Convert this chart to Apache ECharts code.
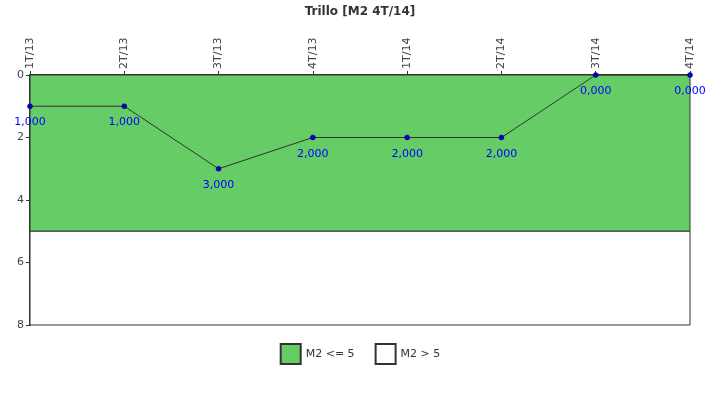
<!DOCTYPE html>
<html><head><meta charset="utf-8">
<script src="https://cdn.jsdelivr.net/npm/echarts@6/dist/echarts.min.js"></script>
<style>html,body{margin:0;padding:0;background:#fff}#c{width:720px;height:400px}</style>
</head><body><div id="c"></div>
<script>
const categories = ['1T/13','2T/13','3T/13','4T/13','1T/14','2T/14','3T/14','4T/14'];
const values = [1, 1, 3, 2, 2, 2, 0, 0];
const bandNames = ['M2 <= 5', 'M2 > 5'];
const bandRanges = [[0, 5], [5, 8]];
const bandColors = ['#66cc66', '#ffffff'];
const yTicks = [0, 2, 4, 6, 8];

const font = 'DejaVu Sans';
const chart = echarts.init(document.getElementById('c'));
const bandSeries = bandNames.map((n, i) => ({
  name: n, type: 'line', data: [], symbol: 'rect',
  itemStyle: { color: bandColors[i], borderColor: '#333', borderWidth: 1 },
  lineStyle: { width: 0 },
  markArea: {
    silent: true,
    itemStyle: { color: bandColors[i], borderColor: '#333', borderWidth: 1 },
    data: [[{ yAxis: bandRanges[i][0] }, { yAxis: bandRanges[i][1] }]]
  },
  z: 1
}));
chart.setOption({
  animation: false,
  title: { text: 'Trillo [M2 4T/14]', left: 'center', top: 1,
    textStyle: { fontFamily: font, fontSize: 12, fontWeight: 'bold', color: '#333' } },
  legend: {
    bottom: 30, left: 'center', itemWidth: 20, itemHeight: 20, itemGap: 20,
    icon: 'rect',
    data: bandNames,
    textStyle: { fontFamily: font, fontSize: 11, color: '#333' }
  },
  grid: { left: 30, right: 30, top: 75, bottom: 75 },
  xAxis: {
    type: 'category', data: categories, position: 'top', boundaryGap: false,
    axisLine: { lineStyle: { color: '#333', width: 2 } },
    axisTick: { show: true, length: 4, lineStyle: { color: '#333' }, alignWithLabel: true },
    axisLabel: { rotate: 90, fontFamily: font, fontSize: 11, color: '#444', margin: 6 },
    splitLine: { show: false }
  },
  yAxis: {
    type: 'value', inverse: true, min: 0, max: 8, interval: 2,
    axisLine: { show: true, lineStyle: { color: '#333', width: 2 } },
    axisTick: { show: true, length: 4, lineStyle: { color: '#333' } },
    axisLabel: { fontFamily: font, fontSize: 11, color: '#444', margin: 6 },
    splitLine: { show: false }
  },
  series: bandSeries.concat([{
    name: 'M2', type: 'line', data: values, z: 5,
    symbol: 'circle', symbolSize: 5,
    itemStyle: { color: '#0000cc', borderColor: '#000066', borderWidth: 0.5 },
    lineStyle: { color: '#333', width: 1 },
    label: { show: true, position: 'bottom', distance: 8, color: '#0000ff',
      fontFamily: font, fontSize: 11,
      formatter: p => p.value.toFixed(3).replace('.', ',') }
  }])
});
</script></body></html>
